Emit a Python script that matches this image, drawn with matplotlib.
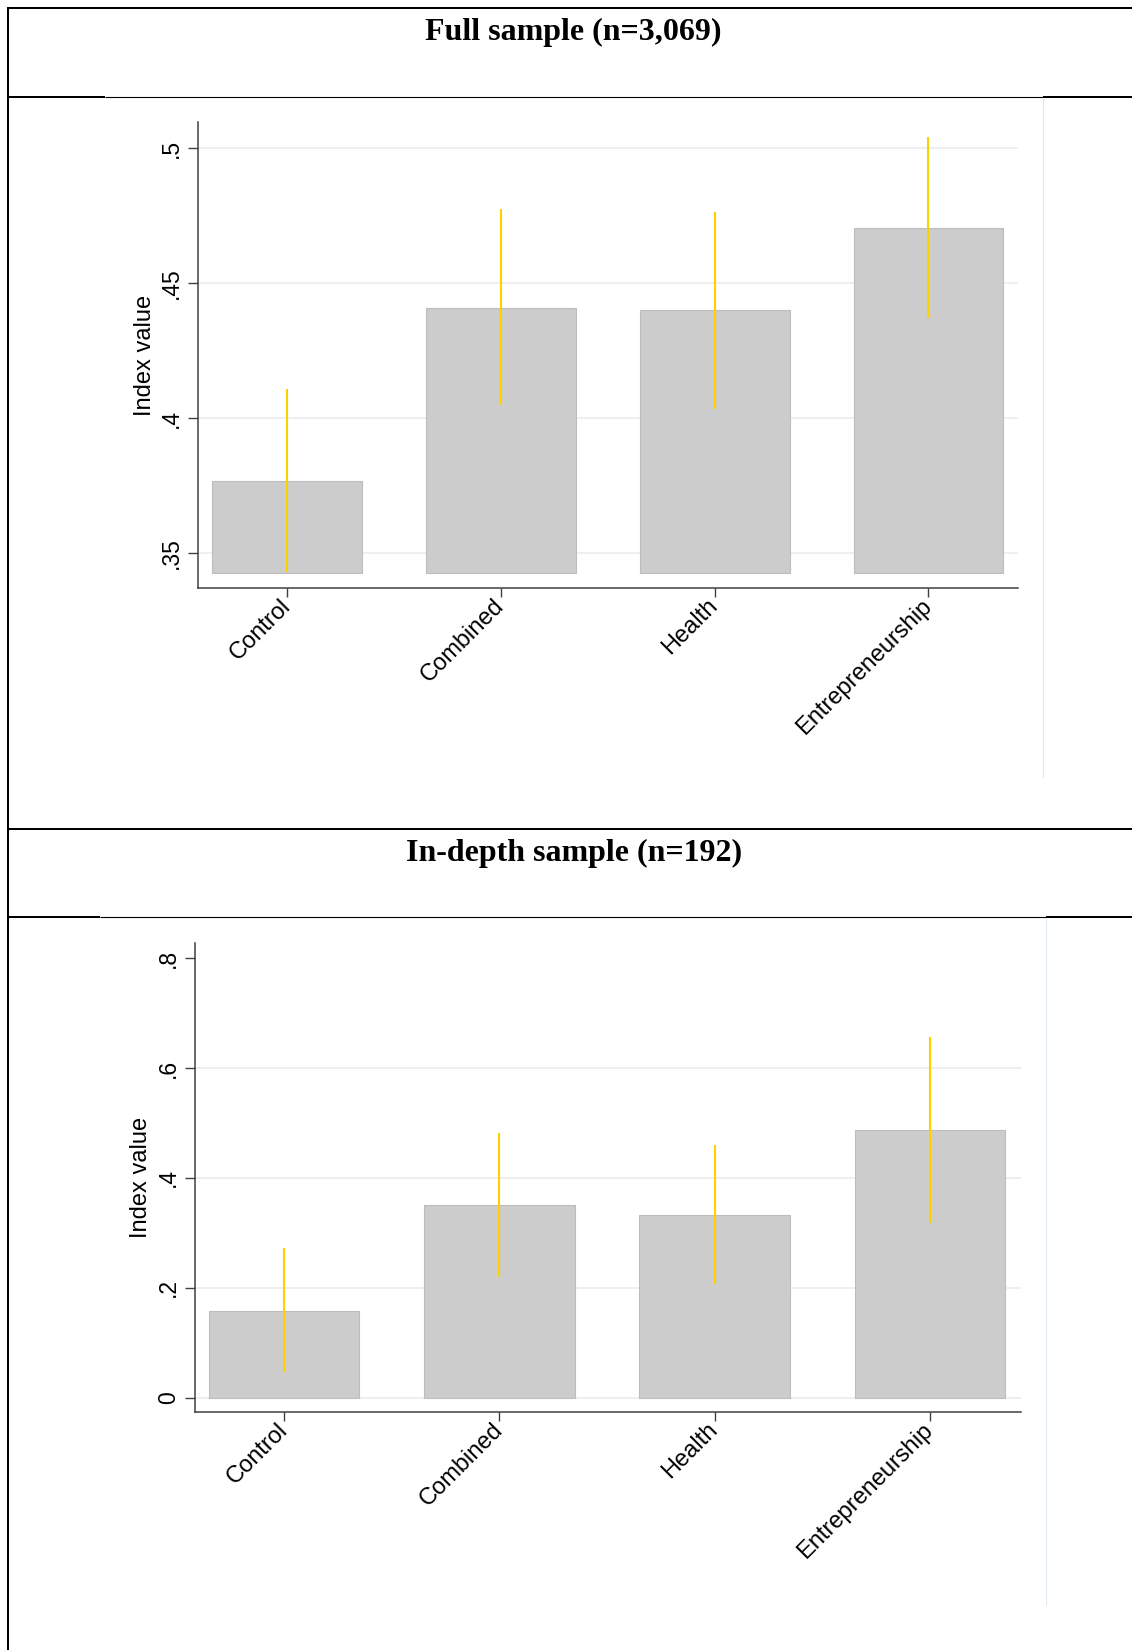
import matplotlib.pyplot as plt
from matplotlib.lines import Line2D

# data
categories = ["Control", "Combined", "Health", "Entrepreneurship"]

full_mean = [0.3768, 0.4407, 0.4400, 0.4706]
full_lo = [0.3429, 0.4049, 0.4033, 0.4373]
full_hi = [0.4107, 0.4774, 0.4764, 0.5041]
full_base = 0.3428
full_ticks = [0.35, 0.40, 0.45, 0.50]
full_ticklabels = [".35", ".4", ".45", ".5"]
full_grid = [0.35, 0.40, 0.45, 0.50]

depth_mean = [0.1585, 0.3516, 0.3328, 0.4870]
depth_lo = [0.0474, 0.2204, 0.2065, 0.3176]
depth_hi = [0.2721, 0.4827, 0.4603, 0.6570]
depth_base = 0.0
depth_ticks = [0, 0.2, 0.4, 0.6, 0.8]
depth_ticklabels = ["0", ".2", ".4", ".6", ".8"]
depth_grid = [0, 0.2, 0.4, 0.6]

titles = ["Full sample (n=3,069)", "In-depth sample (n=192)"]

W, H = 1132, 1650
fig = plt.figure(figsize=(W / 100, H / 100), dpi=100)
fig.patch.set_facecolor("white")


def fx(x):
    return x / W


def fy(y):
    return 1 - y / H


def hline(y, x0, x1, lw=1.45, color="black"):
    fig.add_artist(Line2D([fx(x0), fx(x1)], [fy(y), fy(y)], lw=lw, color=color,
                          transform=fig.transFigure, solid_capstyle="butt"))


def vline(x, y0, y1, lw=1.45, color="black"):
    fig.add_artist(Line2D([fx(x), fx(x)], [fy(y0), fy(y1)], lw=lw, color=color,
                          transform=fig.transFigure, solid_capstyle="butt"))


# table frame
hline(7.5, 7, W)
vline(8, 6.5, H)
hline(97, 7, 105)
hline(97, 105, 1043, lw=0.8)
hline(97, 1043, W)
hline(829, 7, W)
hline(917, 7, 100)
hline(917, 100, 1046, lw=0.8)
hline(917, 1046, W)
# faint image edges
vline(1043, 98, 778, lw=0.8, color="#dfeaf2")
vline(1046, 918, 1605, lw=0.8, color="#dfeaf2")

fig.text(fx(573), fy(32), titles[0], ha="center", va="center",
         family="Liberation Serif", weight="bold", fontsize=23)
fig.text(fx(574), fy(853), titles[1], ha="center", va="center",
         family="Liberation Serif", weight="bold", fontsize=23)

panels = [
    # left, right, top, bottom (px), ylim, xlim, data
    (198.3, 1018.3, 121.7, 588.3, (0.337, 0.5099), (-0.415, 3.42),
     full_mean, full_lo, full_hi, full_base, full_ticks, full_ticklabels, full_grid, 145),
    (195, 1021, 942.7, 1412.3, (-0.0266, 0.8284), (-0.413, 3.423),
     depth_mean, depth_lo, depth_hi, depth_base, depth_ticks, depth_ticklabels, depth_grid, 141),
]

for (l, r, t, b, ylim, xlim, mean, lo, hi, base, ticks, tlabels, grid, ylab_x) in panels:
    ax = fig.add_axes([fx(l), fy(b), (r - l) / W, (b - t) / H])
    ax.set_facecolor("white")
    xs = list(range(len(categories)))
    for g in grid:
        ax.axhline(g, color="#efefef", lw=1.4, zorder=0)
    heights = [m - base for m in mean]
    ax.bar(xs, heights, bottom=base, width=0.7, color="#cccccc",
           edgecolor="#bdbdbd", linewidth=0.8, zorder=2)
    ax.vlines(xs, lo, hi, color="#ffd000", lw=1.5, zorder=3)
    ax.set_xlim(*xlim)
    ax.set_ylim(*ylim)
    for s in ["top", "right"]:
        ax.spines[s].set_visible(False)
    for s in ["left", "bottom"]:
        ax.spines[s].set_color("#404040")
        ax.spines[s].set_linewidth(1.1)
    ax.set_yticks(ticks)
    ax.set_yticklabels(tlabels, rotation=90, va="center", family="Liberation Sans",
                       fontsize=16.5)
    ax.tick_params(axis="y", length=7, width=1, color="#404040", pad=4)
    ax.set_xticks(xs)
    ax.set_xticklabels(categories, rotation=45, ha="right", va="center",
                       rotation_mode="anchor", family="Liberation Sans", fontsize=17)
    ax.tick_params(axis="x", length=6.5, width=1, color="#404040", pad=4)
    fig.text(fx(ylab_x), fy((t + b) / 2), "Index value", rotation=90,
             ha="center", va="center", family="Liberation Sans", fontsize=17)

fig.savefig("out.png", dpi=100, facecolor="white")
